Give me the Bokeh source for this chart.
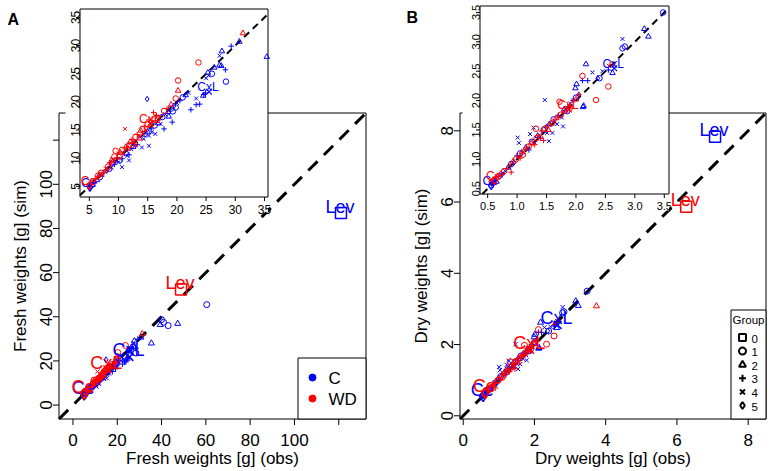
import math
import numpy as np
from bokeh.plotting import figure
from bokeh.models import Range1d
from bokeh.core.properties import value
from bokeh.embed import file_html
from bokeh.resources import INLINE

FONT = "Liberation Sans"
COL = {"C": "#0000FF", "WD": "#FF0000"}
TREATMENTS = ["C", "WD"]
GROUPS = [0, 1, 2, 3, 4, 5]
MARKERS = ["square", "circle", "triangle", "cross", "x", "diamond"]

# genotype means (big symbols with labels)
GENO = ["Lev", "CxL", "Ce"]
GENO_GRP = [0, 4, 5]

# ---------------- Panel A : fresh weights ----------------
A_C_OBS = [5.2,5.5,5.8,6.0,6.3,6.8,7.2,7.5,8.0,8.4, 8.8,9.0,9.3,9.5,10.0,10.2,10.6,11.5,11.8,10.6,
           11.2,11.8,12.2,12.5,12.8,13.2,13.7,14.0,14.3,15.2, 14.5,15.0,15.2,15.7,16.3,15.6,16.2,16.8,17.2,17.8,
           17.5,18.0,18.6,18.5,19.2,19.3,19.0,19.8,19.5,20.0, 20.5,21.0,21.5,22.0,22.4,23.3,23.9,23.3,24.6,24.9,
           24.5,25.0,25.3,25.4,26.0,26.4,27.3,27.6,28.3,28.4, 27.7,27.3,29.3,30.7,35.4,14.9,39.4,40.0,40.9,43.0,
           47.3,60.4]
A_C_SIM = [4.9,5.3,5.6,5.9,6.1,6.6,7.0,7.4,7.8,8.1, 8.3,9.2,8.9,9.6,9.3,9.6,8.4,10.4,9.6,9.9,
           10.9,10.6,11.6,12.0,12.6,12.4,13.7,11.9,13.4,12.2, 14.3,14.6,14.0,14.6,14.3,15.2,15.8,16.2,16.1,15.2,
           17.3,17.8,17.4,18.2,16.4,18.3,18.8,19.0,19.3,19.8, 20.2,20.8,21.2,21.6,18.6,19.5,19.6,20.6,21.3,21.6,
           21.1,24.2,25.2,24.7,25.0,26.1,26.5,26.4,25.7,23.6, 29.0,28.2,29.9,30.7,28.0,20.5,36.4,38.7,37.5,36.0,
           36.9,45.5]
A_C_GRP = [5,1,3,4,2,1,4,3,5,1, 4,1,3,2,4,1,4,4,4,3, 1,3,4,2,1,3,4,4,4,4, 1,2,4,4,4,3,1,2,4,3,
           1,4,2,2,3,1,1,1,5,4, 3,1,2,4,3,3,3,4,3,3, 2,4,2,4,1,2,2,2,3,1, 2,4,3,2,2,5,2,1,1,1, 2,1]

A_WD_OBS = [5.3,5.6,5.9,6.0,6.3,6.5,6.7,7.0,7.2,7.4, 7.8,8.0,8.2,8.5,8.6,8.8,9.0,9.2,9.3,9.5,
            9.8,10.0,10.2,10.3,10.6,10.8,11.0,11.1,11.4,11.6, 11.8,12.0,12.3,12.4,12.6,12.9,13.0,13.2,13.5,13.6,
            13.8,14.1,14.2,14.4,14.7,15.0,15.2,15.4,15.8,16.0, 16.2,16.5,16.7,17.2,17.8,18.3,19.0,19.8,20.2,20.2,
            23.7,31.3]
A_WD_SIM = [5.5,5.9,6.0,6.3,6.5,6.9,7.0,7.4,7.1,7.5, 8.2,7.9,8.5,9.2,8.8,9.6,9.8,9.4,10.3,11.3,
            10.1,10.8,10.3,11.0,11.5,10.9,11.8,15.2,12.2,11.7, 12.3,12.9,13.3,12.4,13.0,13.8,12.5,14.2,14.0,13.5,
            14.9,15.2,14.3,15.6,15.0,16.0,16.8,15.8,16.4,18.1, 16.9,17.6,17.0,17.4,18.4,18.8,19.5,20.6,22.0,23.8,
            27.0,32.2]
A_WD_GRP = [5,1,4,3,4,1,2,1,4,3, 4,5,1,3,4,2,4,3,1,1, 3,4,1,2,1,4,3,4,4,2, 1,2,3,1,4,1,5,3,4,2,
            2,1,4,3,4,1,3,2,4,3, 1,3,2,4,1,3,2,1,2,1, 1,2]

A_GENO_C_OBS = [121.0, 25.5, 5.1]
A_GENO_C_SIM = [87.0, 21.8, 4.8]
A_GENO_WD_OBS = [48.8, 15.5, 5.0]
A_GENO_WD_SIM = [52.4, 16.2, 5.1]

A_TICKS = [0, 20, 40, 60, 80, 100]
A_TICKS_UNLABELED = [120]
A_INSET_TICKS = [5, 10, 15, 20, 25, 30, 35]

# ---------------- Panel B : dry weights ----------------
B_C_OBS = [0.55,0.58,0.60,0.62,0.65,0.70,0.75,0.80,0.85,0.90, 0.95,1.00,1.01,1.03,1.05,1.10,1.15,1.20,1.22,1.28,
           1.25,1.30,1.35,1.40,1.45,1.47,1.50,1.51,1.54,1.55, 1.60,1.62,1.68,1.70,1.76,1.78,1.80,1.85,1.90,1.95,
           1.99,2.01,2.00,2.05,2.11,2.12,2.13,2.17,2.20,2.28, 2.37,2.40,2.45,2.55,2.62,2.79,2.83,2.79,3.16,3.23,
           3.48]
B_C_SIM = [0.55,0.60,0.57,0.66,0.62,0.72,0.74,0.80,0.86,0.92, 0.95,1.06,1.37,1.28,1.10,1.12,1.20,1.16,1.43,1.54,
           1.30,1.28,1.40,1.36,1.50,2.01,1.55,1.45,1.31,1.60, 1.45,1.68,1.60,1.75,1.71,1.56,1.85,1.82,1.95,2.00,
           2.21,2.28,2.05,2.10,2.34,1.89,1.91,2.62,2.34,2.48, 2.38,2.38,2.50,2.52,2.47,2.89,2.92,3.05,3.22,3.09,
           3.50]
B_C_GRP = [5,1,3,4,2,1,3,4,2,1, 5,3,4,4,1,4,2,3,4,4, 1,4,2,3,1,4,5,4,4,2, 4,1,4,3,4,4,2,1,4,3,
           2,2,1,5,3,2,2,2,3,4, 5,1,4,3,2,1,1,4,2,2, 1]

B_WD_OBS = [0.55,0.60,0.63,0.68,0.72,0.78,0.82,0.88,0.90,0.93, 0.98,1.02,1.05,1.08,1.10,1.13,1.16,1.20,1.24,1.28,
            1.30,1.32,1.33,1.36,1.40,1.42,1.45,1.47,1.50,1.53, 1.56,1.60,1.63,1.66,1.70,1.72,1.74,1.78,1.82,1.86,
            1.90,1.95,2.00,2.05,2.11,2.34,2.55,2.56,2.60,3.74]
B_WD_SIM = [0.62,0.64,0.70,0.70,0.75,0.80,0.84,0.90,0.78,0.96, 1.00,1.05,1.02,1.12,1.08,1.16,1.20,1.22,1.27,1.30,
            1.25,1.52,1.36,1.40,1.38,1.48,1.32,1.52,1.55,1.50, 1.60,1.62,1.66,1.70,1.72,1.98,1.76,1.80,1.83,1.90,
            1.88,2.00,2.02,2.10,2.42,2.01,2.24,2.59,2.62,3.08]
B_WD_GRP = [5,1,3,4,2,1,3,4,3,2, 1,4,3,2,1,4,3,1,2,4, 3,1,1,4,2,3,3,1,4,2, 3,1,4,2,3,1,1,4,2,3,
            1,4,2,3,1,1,1,4,2,2]

B_GENO_C_OBS = [7.07, 2.65, 0.56]
B_GENO_C_SIM = [7.83, 2.55, 0.55]
B_GENO_WD_OBS = [6.26, 1.88, 0.62]
B_GENO_WD_SIM = [5.87, 1.85, 0.64]

B_TICKS = [0, 2, 4, 6, 8]
B_TICKS_UNLABELED = []
B_INSET_TICKS = [0.5, 1.0, 1.5, 2.0, 2.5, 3.0, 3.5]

# ---------------- layout (page pixels) ----------------
CANVAS = (0, 772, 0, 470)  # left, right, top, bottom of the drawing area on the page

LAYOUT_A = dict(name="A", box=(58.5, 365.5, 112.5, 418.5), main_lim=(-6.3, 132.3),
                inset_box=(79.5, 267.5, 8.5, 196.5), inset_xlim=(3.4, 35.6), inset_ylim=(3.1, 36.5),
                cover=(65, 267.5, 0, 212), letter_xy=(7, 18.5), fmt="{:.0f}", inset_font="12px",
                legend_box=(297.5, 365.5, 357.5, 418.5))
LAYOUT_B = dict(name="B", box=(459.5, 765.5, 112.5, 418.5), main_lim=(-0.09, 8.5),
                inset_box=(479.5, 668.5, 5.5, 193.5), inset_xlim=(0.37, 3.58), inset_ylim=(0.41, 3.61),
                cover=(462, 668.5, 0, 210), letter_xy=(406, 17), fmt="{:.1f}", inset_font="11px",
                legend_box=(730.5, 765.5, 309.5, 418.5))


def range_for(lo, hi, a, b, c_start, c_end):
    """Range whose values lo..hi land on page pixels a..b, spanning canvas c_start..c_end."""
    s = (hi - lo) / (b - a)
    return Range1d(lo - (a - c_start) * s, hi + (c_end - b) * s)


p = figure(width=CANVAS[1] - CANVAS[0], height=CANVAS[3] - CANVAS[2],
           x_range=Range1d(CANVAS[0], CANVAS[1]), y_range=Range1d(CANVAS[3], CANVAS[2]),
           x_axis_location=None, y_axis_location=None, min_border=0,
           output_backend="svg", toolbar_location=None,
           background_fill_color="white", border_fill_color="white", outline_line_color=None)
p.grid.visible = False


def txt(p, x, y, labels, size, color="black", align="center", baseline="alphabetic", angle=0.0,
        style="normal", **rn):
    p.text(x=list(x), y=list(y), text=list(labels), text_font=value(FONT), text_font_size=size,
           text_color=color, text_align=align, text_baseline=baseline, angle=angle,
           text_font_style=style, **rn)


def draw_points(p, obs, sim, grp, color, size, lw, **rn):
    if len(obs) == 0:
        return
    p.scatter(x=list(obs), y=list(sim), marker=[MARKERS[g] for g in grp], size=size,
              fill_color=None, line_color=color, line_width=lw, **rn)


def draw_geno(p, gx, gy, names, grp, color, size, lw, font_px, lift, **rn):
    if len(gx) == 0:
        return
    p.scatter(x=list(gx), y=list(gy), marker=[MARKERS[g] for g in grp], size=size,
              fill_color=None, line_color=color, line_width=lw, **rn)
    # text glyph y_offset is in screen pixels, positive = downwards, so lift the label above the symbol
    p.text(x=list(gx), y=list(gy), text=list(names), text_font=value(FONT),
           text_font_size=f"{font_px}px", text_color=color, text_align="center",
           text_baseline="alphabetic", x_offset=-1, y_offset=-lift, **rn)


def inside(x, y, xl, yl):
    x = np.asarray(x, float)
    y = np.asarray(y, float)
    return (x >= xl[0]) & (x <= xl[1]) & (y >= yl[0]) & (y <= yl[1])


def build_panel(p, L, D):
    nm = L["name"]
    cl, cr, ct, cb = CANVAS
    bl, br, bt, bb = L["box"]
    lo, hi = L["main_lim"]
    il, ir, it, ib = L["inset_box"]
    (ax0, ax1), (ay0, ay1) = L["inset_xlim"], L["inset_ylim"]
    mx, my, ix, iy = nm + "_x", nm + "_y", nm + "_ix", nm + "_iy"
    p.extra_x_ranges[mx] = range_for(lo, hi, bl, br, cl, cr)
    p.extra_y_ranges[my] = range_for(lo, hi, bb, bt, cb, ct)
    p.extra_x_ranges[ix] = range_for(ax0, ax1, il, ir, cl, cr)
    p.extra_y_ranges[iy] = range_for(ay0, ay1, ib, it, cb, ct)
    MAIN = dict(x_range_name=mx, y_range_name=my)
    INS = dict(x_range_name=ix, y_range_name=iy)

    # ---- main plot ----
    p.quad(left=[lo], right=[hi], bottom=[lo], top=[hi], fill_color=None, line_color="black",
           line_width=1, **MAIN)
    p.line(x=[lo, hi], y=[lo, hi], line_color="black", line_width=3, line_dash="13 9", **MAIN)
    for trt in TREATMENTS:
        obs, sim, grp = D["pts"][trt]
        draw_points(p, obs, sim, grp, COL[trt], 6, 1, **MAIN)
    for trt in TREATMENTS:
        gx, gy = D["geno"][trt]
        draw_geno(p, gx, gy, GENO, GENO_GRP, COL[trt], 11, 1.5, 18, 6.5, **MAIN)

    # ---- main axes (ticks, labels, titles) ----
    ticks = list(D["ticks"]) + list(D["ticks_extra"])
    n = len(ticks)
    lab = [str(t) for t in D["ticks"]]
    m = len(lab)
    p.segment(x0=ticks, y0=[bb] * n, x1=ticks, y1=[bb + 6] * n, line_color="black", line_width=1,
              x_range_name=mx)
    txt(p, D["ticks"], [bb + 21] * m, lab, "17px", x_range_name=mx)
    p.segment(x0=[bl - 6] * n, y0=ticks, x1=[bl] * n, y1=ticks, line_color="black", line_width=1,
              y_range_name=my)
    txt(p, [bl - 13] * m, D["ticks"], lab, "17px", angle=math.pi / 2, y_range_name=my)
    txt(p, [(bl + br) / 2], [bb + 39.5], [D["xlabel"]], "17px")
    txt(p, [bl - 38.5], [(bt + bb) / 2], [D["ylabel"]], "17px", angle=math.pi / 2)

    # ---- legend ----
    lg = D["legend"]
    l, r, t, b = L["legend_box"]
    p.quad(left=[l], right=[r], top=[t], bottom=[b], fill_color="white", line_color="black", line_width=1)
    k = len(lg["labels"])
    ys = [lg["y0"] + i * lg["dy"] for i in range(k)]
    if lg.get("title"):
        txt(p, [lg["title_xy"][0]], [lg["title_xy"][1]], [lg["title"]], lg["font"], baseline="middle")
    p.scatter(x=[lg["mx"]] * k, y=ys, marker=lg["markers"], size=lg["msize"], fill_color=lg["fill"],
              line_color=lg["line"], line_width=lg["mlw"])
    txt(p, [lg["tx"]] * k, [v + 1 for v in ys], lg["labels"], lg["font"], align="left", baseline="middle")

    # ---- inset ----
    vl, vr, vt, vb = L["cover"]
    p.quad(left=[vl], right=[vr], top=[vt], bottom=[vb], fill_color="white", line_color=None)
    p.quad(left=[ax0], right=[ax1], bottom=[ay0], top=[ay1], fill_color=None, line_color="black",
           line_width=1, **INS)
    d0, d1 = max(ax0, ay0), min(ax1, ay1)
    p.line(x=[d0, d1], y=[d0, d1], line_color="black", line_width=2, line_dash="7 5", **INS)
    for trt in TREATMENTS:
        obs, sim, grp = D["pts"][trt]
        mk = inside(obs, sim, (ax0, ax1), (ay0, ay1))
        draw_points(p, np.asarray(obs)[mk], np.asarray(sim)[mk], np.asarray(grp)[mk], COL[trt], 5.5, 1, **INS)
    for trt in TREATMENTS:
        gx, gy = D["geno"][trt]
        mk = inside(gx, gy, (ax0, ax1), (ay0, ay1))
        draw_geno(p, np.asarray(gx)[mk], np.asarray(gy)[mk], np.asarray(GENO)[mk],
                  np.asarray(GENO_GRP)[mk], COL[trt], 8, 1.2, 12, 4.5, **INS)
    tk = list(D["inset_ticks"])
    q = len(tk)
    tl = [L["fmt"].format(v) for v in tk]
    p.segment(x0=tk, y0=[ib] * q, x1=tk, y1=[ib + 4] * q, line_color="black", line_width=1, x_range_name=ix)
    txt(p, tk, [ib + 12] * q, tl, L["inset_font"], x_range_name=ix)
    p.segment(x0=[il - 4] * q, y0=tk, x1=[il] * q, y1=tk, line_color="black", line_width=1, y_range_name=iy)
    txt(p, [il - 4.5] * q, tk, tl, L["inset_font"], angle=math.pi / 2, y_range_name=iy)

    # ---- panel letter ----
    txt(p, [L["letter_xy"][0]], [L["letter_xy"][1]], [nm], "16px", align="left", style="bold")


DATA_A = dict(
    pts={"C": (A_C_OBS, A_C_SIM, A_C_GRP), "WD": (A_WD_OBS, A_WD_SIM, A_WD_GRP)},
    geno={"C": (A_GENO_C_OBS, A_GENO_C_SIM), "WD": (A_GENO_WD_OBS, A_GENO_WD_SIM)},
    ticks=A_TICKS, ticks_extra=A_TICKS_UNLABELED, inset_ticks=A_INSET_TICKS,
    xlabel="Fresh weights [g] (obs)", ylabel="Fresh weights [g] (sim)",
    legend=dict(labels=TREATMENTS, markers=["circle", "circle"],
                fill=[COL[t] for t in TREATMENTS], line=[COL[t] for t in TREATMENTS],
                msize=7, mlw=1, mx=312, tx=328, y0=377, dy=21, font="17px"),
)
DATA_B = dict(
    pts={"C": (B_C_OBS, B_C_SIM, B_C_GRP), "WD": (B_WD_OBS, B_WD_SIM, B_WD_GRP)},
    geno={"C": (B_GENO_C_OBS, B_GENO_C_SIM), "WD": (B_GENO_WD_OBS, B_GENO_WD_SIM)},
    ticks=B_TICKS, ticks_extra=B_TICKS_UNLABELED, inset_ticks=B_INSET_TICKS,
    xlabel="Dry weights [g] (obs)", ylabel="Dry weights [g] (sim)",
    legend=dict(labels=[str(g) for g in GROUPS], markers=MARKERS,
                fill=[None] * len(GROUPS), line=["black"] * len(GROUPS), msize=7, mlw=2,
                mx=742, tx=751, y0=337, dy=13.6, font="11.5px",
                title="Group", title_xy=(748, 319)),
)

build_panel(p, LAYOUT_A, DATA_A)
build_panel(p, LAYOUT_B, DATA_B)

open("out.html", "w").write(file_html(p, INLINE))
